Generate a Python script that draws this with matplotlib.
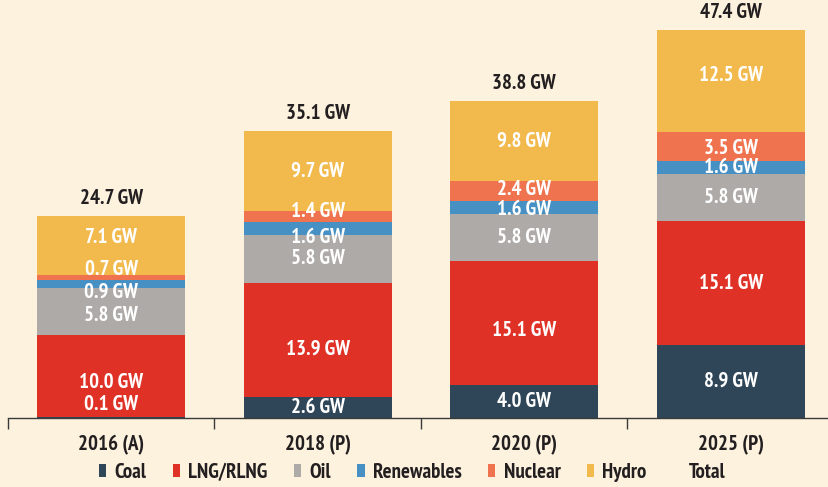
import matplotlib.pyplot as plt
from matplotlib.patches import Patch
import numpy as np

years = ['2016 (A)', '2018 (P)', '2020 (P)', '2025 (P)']
coal = [0.1, 2.6, 4.0, 8.9]
lng = [10.0, 13.9, 15.1, 15.1]
oil = [5.8, 5.8, 5.8, 5.8]
renew = [0.9, 1.6, 1.6, 1.6]
nuclear = [0.7, 1.4, 2.4, 3.5]
hydro = [7.1, 9.7, 9.8, 12.5]
total = [24.7, 35.1, 38.8, 47.4]

series = [('Coal', coal, '#2f4558'),
          ('LNG/RLNG', lng, '#e03127'),
          ('Oil', oil, '#aeaaa7'),
          ('Renewables', renew, '#4790c4'),
          ('Nuclear', nuclear, '#f07350'),
          ('Hydro', hydro, '#f2b94d')]

# nudges for labels that don't sit at segment centre (GW)
nudge = {(0, 0): 1.6, (0, 1): -0.75, (0, 2): -0.55, (0, 3): -0.95, (0, 4): 0.95, (0, 5): 1.0,
         (1, 1): -1.2, (1, 3): -1.1, (1, 4): 0.6, (2, 1): -0.85, (2, 3): -0.25, (2, 4): 0.15,
         (3, 4): -0.3, (3, 5): 0.6}

plt.rcParams['font.family'] = ['PT Sans Narrow', 'Roboto Condensed', 'DejaVu Sans']
plt.rcParams['font.weight'] = 'bold'

bg = '#fdf2de'
dark = '#231f20'
fs = 15
fig = plt.figure(figsize=(8.29, 4.87), dpi=100, facecolor=bg)
ax = fig.add_axes([8 / 829, 69 / 487, 821 / 829, 418 / 487])
ax.set_facecolor(bg)

x = np.arange(len(years))
w = 0.717
bottom = np.zeros(len(years))
for j, (name, vals, col) in enumerate(series):
    ax.bar(x, vals, w, bottom=bottom, color=col, linewidth=0)
    for i in range(len(years)):
        yc = bottom[i] + vals[i] / 2 + nudge.get((i, j), 0)
        ax.text(x[i], yc, '%.1f GW' % vals[i], ha='center', va='center',
                color='white', fontsize=fs, fontweight='bold')
    bottom += np.array(vals)

for i in range(len(years)):
    ax.text(x[i], total[i] + 0.9, '%.1f GW' % total[i], ha='center', va='bottom',
            color=dark, fontsize=fs, fontweight='bold')

ax.set_xlim(-0.5, 3.476)
ax.set_ylim(0, 51.0)
for s in ['top', 'right', 'left']:
    ax.spines[s].set_visible(False)
ax.spines['bottom'].set_color('#3a3a3a')
ax.spines['bottom'].set_linewidth(1.0)
ax.set_yticks([])
ax.set_xticks(x)
ax.set_xticklabels(years, fontsize=fs, fontweight='bold', color=dark)
ax.tick_params(axis='x', which='major', length=0, pad=12)
ax.set_xticks([-0.5, 0.5, 1.5, 2.5], minor=True)
ax.tick_params(axis='x', which='minor', length=8, width=1, color='#3a3a3a', direction='out')

handles = [Patch(facecolor=c, edgecolor='none') for _, _, c in series]
handles.append(Patch(facecolor='none', edgecolor='none'))
labels = [n for n, _, _ in series] + ['Total']
leg = fig.legend(handles, labels, loc='center', bbox_to_anchor=(0.497, 0.03), ncol=7,
                 frameon=False, fontsize=fs, handlelength=0.36, handleheight=0.55,
                 handletextpad=0.4, columnspacing=1.25)
for t in leg.get_texts():
    t.set_color(dark)

fig.savefig('out.png', dpi=100, facecolor=bg)
